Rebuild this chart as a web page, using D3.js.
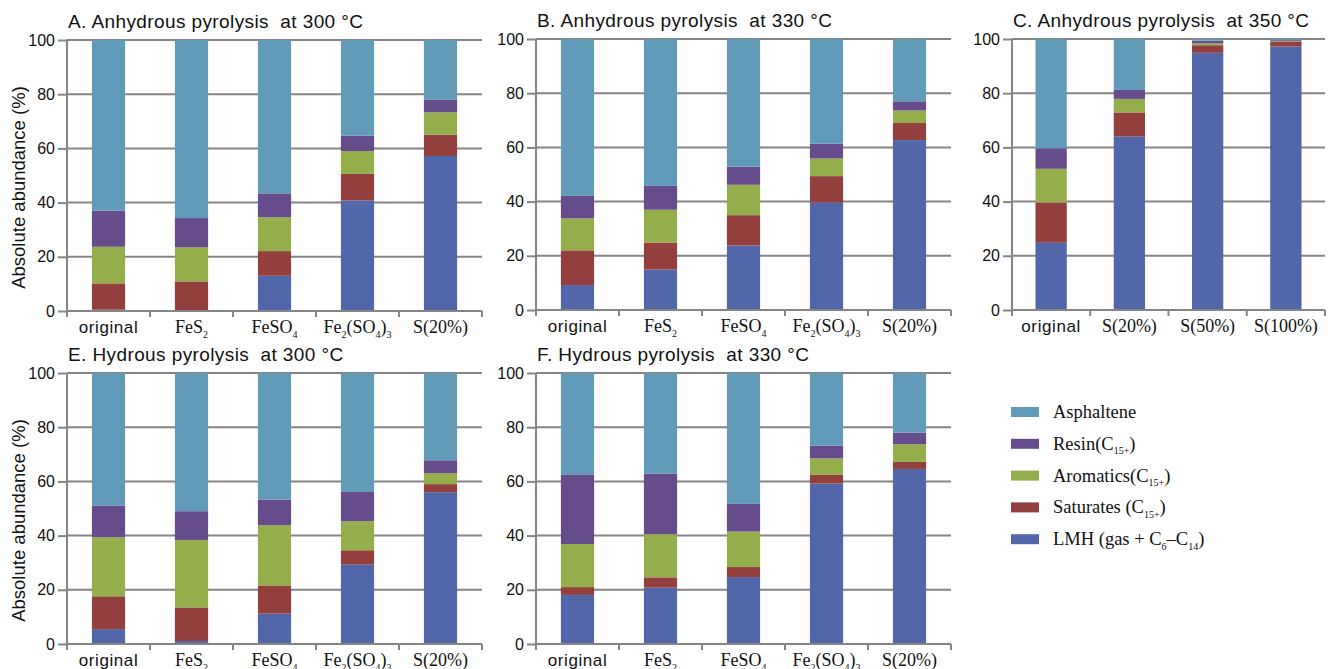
<!DOCTYPE html>
<html>
<head>
<meta charset="utf-8">
<script src="https://cdn.jsdelivr.net/npm/d3@7"></script>
<style>
  html, body { margin: 0; padding: 0; background: #fff; }
  svg { display: block; }
  text { white-space: pre; }
</style>
</head>
<body>
<svg id="chart" width="1336" height="669"></svg>
<script>
// Stacked fractions, bottom to top
const seriesNames = ["LMH", "Saturates", "Aromatics", "Resin", "Asphaltene"];
const seriesColors = ["#5167a9", "#933f3e", "#94ae4b", "#674c8c", "#629bb8"];

const catsMain = ["original", "FeS2", "FeSO4", "Fe2(SO4)3", "S(20%)"];
const catsSulfur = ["original", "S(20%)", "S(50%)", "S(100%)"];
const yTicks = [0, 20, 40, 60, 80, 100];

// Anhydrous 300 °C (rows follow seriesNames)
const valuesA = [
  [0.5, 0.3, 13.0, 40.8, 57.2],
  [9.7, 10.6, 9.1, 9.8, 7.9],
  [13.5, 12.6, 12.5, 8.4, 8.2],
  [13.3, 10.8, 8.8, 5.7, 4.6],
  [63.0, 65.7, 56.6, 35.3, 22.1]
];
// Anhydrous 330 °C
const valuesB = [
  [9.2, 14.9, 23.8, 39.6, 62.7],
  [12.8, 10.0, 11.2, 9.8, 6.3],
  [11.8, 12.1, 11.2, 6.5, 4.6],
  [8.3, 8.8, 6.7, 5.5, 3.4],
  [57.9, 54.2, 47.1, 38.6, 23.0]
];
// Anhydrous 350 °C
const valuesC = [
  [24.8, 64.0, 94.9, 97.2],
  [14.9, 8.9, 2.8, 1.9],
  [12.4, 5.0, 0.7, 0.2],
  [7.6, 3.3, 1.0, 0.3],
  [40.3, 18.8, 0.6, 0.4]
];
// Hydrous 300 °C
const valuesE = [
  [5.5, 1.1, 11.2, 29.3, 56.0],
  [12.1, 12.4, 10.4, 5.3, 3.0],
  [21.8, 24.9, 22.2, 10.7, 4.0],
  [11.6, 10.6, 9.5, 10.8, 4.8],
  [49.0, 51.0, 46.7, 43.9, 32.2]
];
// Hydrous 330 °C
const valuesF = [
  [18.1, 20.8, 24.7, 59.2, 64.6],
  [2.9, 3.8, 3.7, 3.2, 2.6],
  [15.9, 15.9, 13.1, 6.1, 6.5],
  [25.5, 22.4, 10.2, 4.7, 4.3],
  [37.6, 37.1, 48.3, 26.8, 22.0]
];

const panels = [
  { title: "A. Anhydrous pyrolysis  at 300 °C", cats: catsMain, values: valuesA, x0: 67, x1: 482, y0: 40, y1: 311, ylabel: true },
  { title: "B. Anhydrous pyrolysis  at 330 °C", cats: catsMain, values: valuesB, x0: 536, x1: 951, y0: 39, y1: 310 },
  { title: "C. Anhydrous pyrolysis  at 350 °C", cats: catsSulfur, values: valuesC, x0: 1012, x1: 1325, y0: 39, y1: 310 },
  { title: "E. Hydrous pyrolysis  at 300 °C", cats: catsMain, values: valuesE, x0: 67, x1: 482, y0: 373, y1: 644, ylabel: true },
  { title: "F. Hydrous pyrolysis  at 330 °C", cats: catsMain, values: valuesF, x0: 536, x1: 951, y0: 373, y1: 644 }
];

const SANS = "'Liberation Sans', Arial, sans-serif";
const SERIF = "'Liberation Serif', 'Times New Roman', serif";
const GRID = "#858585";

const svg = d3.select("#chart");

// Write a label with chemical subscripts (digits right after a letter or ')')
function chemText(sel, str, size, subSize) {
  const re = /([A-Za-z\)])([0-9+]+)/g;
  const shift = size * 0.25;
  let last = 0, m, pendingUp = false;
  const plain = s => {
    if (!s) return;
    const t = sel.append("tspan").text(s);
    if (pendingUp) { t.attr("dy", -shift); pendingUp = false; }
  };
  while ((m = re.exec(str)) !== null) {
    plain(str.slice(last, m.index) + m[1]);
    sel.append("tspan").attr("font-size", subSize).attr("dy", shift).text(m[2]);
    pendingUp = true;
    last = m.index + m[0].length;
  }
  plain(str.slice(last));
}

panels.forEach(p => {
  const g = svg.append("g").attr("transform", `translate(${p.x0},${p.y0})`);
  const w = p.x1 - p.x0, h = p.y1 - p.y0;

  const x = d3.scaleBand().domain(p.cats).range([0, w]).padding(0);
  const y = d3.scaleLinear().domain([0, 100]).range([h, 0]);

  // gridlines behind bars
  g.append("g").selectAll("line").data(yTicks.filter(t => t > 0)).join("line")
    .attr("x1", 0).attr("x2", w)
    .attr("y1", d => y(d)).attr("y2", d => y(d))
    .attr("stroke", GRID).attr("stroke-width", 2);

  // stacked bars
  const table = p.cats.map((c, i) => {
    const row = { cat: c };
    seriesNames.forEach((s, k) => row[s] = p.values[k][i]);
    return row;
  });
  const stacked = d3.stack().keys(seriesNames)(table);
  const bw = x.bandwidth() * 0.4;
  g.append("g").selectAll("g").data(stacked).join("g")
    .attr("fill", (d, k) => seriesColors[k])
    .selectAll("rect").data(d => d).join("rect")
    .attr("x", d => x(d.data.cat) + (x.bandwidth() - bw) / 2)
    .attr("width", bw)
    .attr("y", d => y(d[1]))
    .attr("height", d => Math.max(0, y(d[0]) - y(d[1])));

  // y axis
  const yAxis = g.append("g").call(d3.axisLeft(y).tickValues(yTicks).tickSize(9).tickPadding(3));
  yAxis.select(".domain").attr("stroke", GRID).attr("stroke-width", 2).attr("d", `M0,${h}V0`);
  yAxis.selectAll(".tick line").attr("stroke", GRID).attr("stroke-width", 2);
  yAxis.selectAll(".tick text").attr("font-family", SANS).attr("font-size", 16).attr("fill", "#111");

  // x axis baseline with ticks at band boundaries
  g.append("line").attr("x1", 0).attr("x2", w).attr("y1", h).attr("y2", h)
    .attr("stroke", GRID).attr("stroke-width", 2);
  const bounds = p.cats.map(c => x(c)).concat([w]);
  g.append("g").selectAll("line").data(bounds).join("line")
    .attr("x1", d => d).attr("x2", d => d)
    .attr("y1", h).attr("y2", h + 6)
    .attr("stroke", GRID).attr("stroke-width", 2);

  // category labels
  g.append("g").selectAll("text").data(p.cats).join("text")
    .attr("x", d => x(d) + x.bandwidth() / 2)
    .attr("y", h + 22)
    .attr("text-anchor", "middle")
    .attr("fill", "#111")
    .each(function (d) {
      const t = d3.select(this);
      if (d === "original") {
        t.attr("font-family", SANS).attr("font-size", 17).attr("letter-spacing", 0.6).text(d);
      } else {
        t.attr("font-family", SERIF).attr("font-size", 18);
        chemText(t, d, 18, 10);
      }
    });

  // panel title
  g.append("text").attr("x", 1).attr("y", -12)
    .attr("font-family", SANS).attr("font-size", 19).attr("letter-spacing", 0.4)
    .attr("fill", "#111")
    .text(p.title);

  if (p.ylabel) {
    g.append("text")
      .attr("transform", `translate(${-42},${h / 2 + 12}) rotate(-90)`)
      .attr("text-anchor", "middle")
      .attr("font-family", SANS).attr("font-size", 18.5).attr("fill", "#111")
      .text("Absolute abundance (%)");
  }
});

// legend, top entry first
const legendLabels = ["LMH (gas + C6–C14)", "Saturates (C15+)", "Aromatics(C15+)", "Resin(C15+)", "Asphaltene"];
const legendOrder = [4, 3, 2, 1, 0];
const legend = svg.append("g").attr("transform", "translate(1011,412)");
legendOrder.forEach((k, i) => {
  const row = legend.append("g").attr("transform", `translate(0,${i * 31.8})`);
  row.append("rect").attr("x", 0).attr("y", -5).attr("width", 28).attr("height", 10)
    .attr("fill", seriesColors[k]);
  const t = row.append("text").attr("x", 42).attr("y", 6)
    .attr("font-family", SERIF).attr("font-size", 18.5).attr("fill", "#111");
  chemText(t, legendLabels[k], 18.5, 10);
});
</script>
</body>
</html>
